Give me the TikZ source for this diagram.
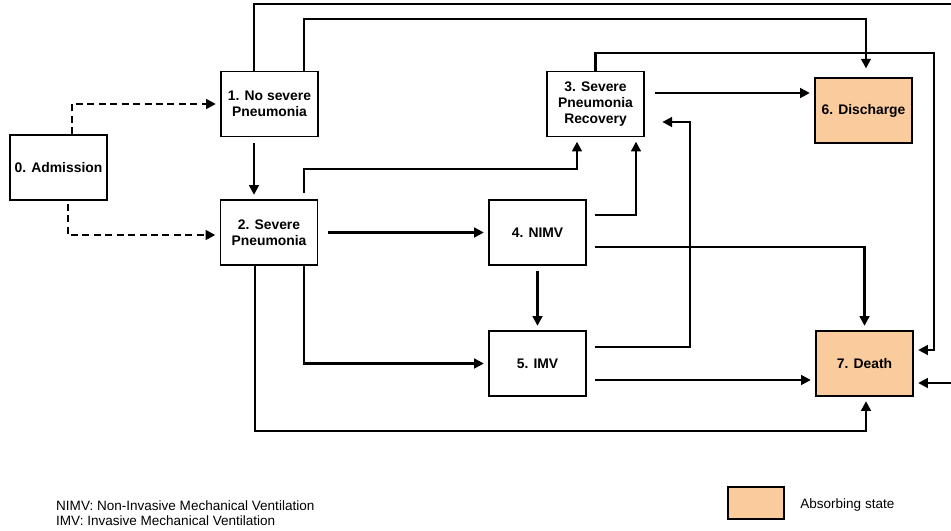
\documentclass[tikz,border=0pt]{standalone}
\usepackage{fontspec}
\setmainfont{Liberation Sans}
\usetikzlibrary{calc,arrows.meta}
\definecolor{absorb}{RGB}{250,203,156}
\begin{document}
\begin{tikzpicture}[x=0.02cm,y=-0.02cm,
        st/.style={draw,line width=0.9pt,minimum width=1.94cm,minimum height=1.3cm,inner sep=0pt,align=center,font=\fontsize{7.9}{9.3}\selectfont\bfseries},
        ab/.style={st,fill=absorb},
        tr/.style={line width=1.3pt,-{Triangle[length=5.5pt,width=5.5pt]},shorten >=2.5pt},
        dsh/.style={tr,dash pattern=on 4pt off 2.5pt}]
        \useasboundingbox (0,0) rectangle (951,531);

        \node [st](n0)at(58.5,167.5){0. Admission};
        \node [st](n1)at(269.5,104){1. No severe\\Pneumonia};
        \node [st](n2)at(269,232.5){2. Severe\\Pneumonia};
        \node [st](n3)at(595.5,104){3. Severe\\Pneumonia\\Recovery};
        \node [st](n4)at(537.5,232.5){4. NIMV};
        \node [st](n5)at(537.5,363.5){5. IMV};
        \node [ab](n6)at(863.5,110.5){6. Discharge};
        \node [ab](n7)at(864.5,363.5){7. Death};

        % from admission
        \draw [dsh] ($(n0.north)+(13.5,0)$) |- (n1.west);
        \draw [dsh] ($(n0.south)+(9.5,3)$) |- ($(n2.west)+(0,2.5)$);

        % from 1
        \draw [tr] ($(n1.south)+(-15.5,6)$) -- ($(n2.north)+(-15,0)$);
        \draw [tr] ($(n1.north)+(-15.5,0)$) |- (960,4) |- ($(n7.east)+(0,19.5)$);
        \draw [tr,shorten >=5pt] ($(n1.north)+(34.5,0)$) -- ++(0,-52) -| ($(n6.north)+(2.5,0)$);

        % from 2
        \draw [tr] ($(n2.north)+(35,-6)$) -- ++(0,-24) -| ($(n3.south)+(-18.5,0)$);
        \draw [tr] ($(n2.east)+(10,0)$) -- (n4.west);
        \draw [tr] ($(n2.south)+(35,0)$) |- (n5.west);
        \draw [tr] ($(n2.south)+(-14,0)$) -- ++(0,165) -| ($(n7.south)+(1.5,0)$);

        % from 3
        \draw [tr] ($(n3.east)+(10,-11)$) coordinate (a3) -- (a3 -| n6.west);
        \draw [tr] (n3.north) |- (934,53) |- ($(n7.east)+(0,-13.5)$);

        % from 4
        \draw [tr] ($(n4.east)+(8,-17.5)$) -| ($(n3.south)+(40.5,0)$);
        \draw [tr] ($(n4.south)+(0,5)$) -- (n5.north);
        \draw [tr] ($(n4.east)+(8,14.5)$) -| (n7.north);

        % from 5
        \draw [tr,shorten >=10pt] ($(n5.east)+(8,-16.5)$) -| (690,200) |- ($(n3.east)+(0,18)$);
        \draw [tr] ($(n5.east)+(8,16.5)$) coordinate (a5) -- (a5 -| n7.west);

        % legend
        \node [anchor=west,align=left,font=\fontsize{7.7}{8.5}\selectfont](lg)at(50,513){NIMV: Non-Invasive Mechanical Ventilation\\IMV: Invasive Mechanical Ventilation};
        \node [draw,line width=0.9pt,fill=absorb,minimum width=1.12cm,minimum height=0.64cm,inner sep=0pt](lb)at(756,503){};
        \node [anchor=west,font=\fontsize{7.7}{9}\selectfont,inner sep=0pt](lt)at(800,505){Absorbing state};
\end{tikzpicture}
\end{document}
